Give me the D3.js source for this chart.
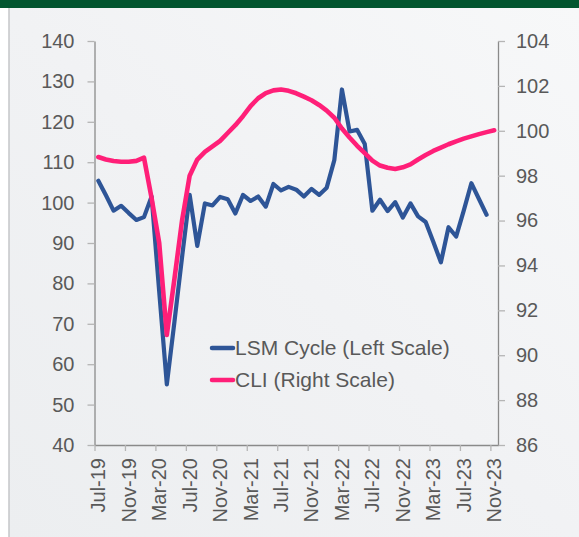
<!DOCTYPE html>
<html><head><meta charset="utf-8">
<script src="https://cdn.jsdelivr.net/npm/d3@7"></script>
<style>
html,body{margin:0;padding:0;background:#fff;}
svg{display:block;font-family:"Liberation Sans",Arial,sans-serif;}
</style></head>
<body>
<svg id="chart" width="579" height="537"></svg>
<script>
const months = ["Jul-19","Aug-19","Sep-19","Oct-19","Nov-19","Dec-19","Jan-20","Feb-20","Mar-20","Apr-20","May-20","Jun-20",
"Jul-20","Aug-20","Sep-20","Oct-20","Nov-20","Dec-20","Jan-21","Feb-21","Mar-21","Apr-21","May-21","Jun-21",
"Jul-21","Aug-21","Sep-21","Oct-21","Nov-21","Dec-21","Jan-22","Feb-22","Mar-22","Apr-22","May-22","Jun-22",
"Jul-22","Aug-22","Sep-22","Oct-22","Nov-22","Dec-22","Jan-23","Feb-23","Mar-23","Apr-23","May-23","Jun-23",
"Jul-23","Aug-23","Sep-23","Oct-23","Nov-23"];
const lsmCycle = [105.4,101.8,98.0,99.2,97.4,95.7,96.4,101.5,78,55,70.5,86.5,
101.9,89.3,99.8,99.3,101.4,100.8,97.3,101.9,100.4,101.5,99.0,104.6,
103.0,103.9,103.2,101.5,103.4,101.9,103.7,110.5,128.0,117.6,118.0,114.5,
98.0,100.7,97.9,100.1,96.3,99.8,96.6,95.2,90.3,85.2,93.9,91.6,
98.0,104.8,100.9,97.0,null];
const cli = [98.83,98.72,98.65,98.62,98.62,98.66,98.8,97.0,95.0,90.9,93.4,96.0,
98.0,98.72,99.06,99.3,99.55,99.9,100.25,100.65,101.1,101.45,101.68,101.8,
101.84,101.78,101.67,101.52,101.36,101.15,100.9,100.58,100.1,99.7,99.33,99.0,
98.67,98.45,98.35,98.3,98.37,98.5,98.72,98.92,99.1,99.25,99.4,99.53,
99.65,99.75,99.85,99.94,100.02];
const leftTicks = [40,50,60,70,80,90,100,110,120,130,140];
const rightTicks = [86,88,90,92,94,96,98,100,102,104];
const xTickIdx = [0,4,8,12,16,20,24,28,32,36,40,44,48,52];
const seriesNames = ["LSM Cycle (Left Scale)","CLI (Right Scale)"];
const colors = ["#2E5597","#FF1F78"];

const svg = d3.select("#chart");
const defs = svg.append("defs");
const g1 = defs.append("linearGradient").attr("id","bg").attr("x1","0").attr("y1","1").attr("x2","1").attr("y2","0");
g1.append("stop").attr("offset","0").attr("stop-color","#eceef0");
g1.append("stop").attr("offset","0.5").attr("stop-color","#f1f2f4");
g1.append("stop").attr("offset","1").attr("stop-color","#f7f8f9");

svg.append("rect").attr("x",0).attr("y",0).attr("width",579).attr("height",537).attr("fill","#ffffff");
svg.append("rect").attr("x",9).attr("y",8).attr("width",570).attr("height",529).attr("fill","url(#bg)");
svg.append("line").attr("x1",9).attr("x2",9).attr("y1",8).attr("y2",537).attr("stroke","#c4c6c8").attr("stroke-width",1.5);
svg.append("rect").attr("x",0).attr("y",0).attr("width",579).attr("height",8).attr("fill","#02552F");

const L = 94.5, R = 498, T = 41, B = 445;
const x = d3.scaleLinear().domain([0, months.length]).range([L, R]);
const yL = d3.scaleLinear().domain([40,140]).range([B, T]);
const yR = d3.scaleLinear().domain([86,104]).range([B, T]);

const textCol = "#595959";

// left axis
const ax = svg.append("g").attr("transform",`translate(${L},0)`)
  .call(d3.axisLeft(yL).tickValues(leftTicks).tickSize(7).tickPadding(13).tickSizeOuter(0));
ax.select(".domain").attr("stroke","#8a8a8a").attr("stroke-width",1.3);
ax.selectAll(".tick line").attr("stroke","#b5b5b5").attr("stroke-width",1.3);
ax.selectAll(".tick text").attr("fill",textCol).attr("font-size",20).attr("font-family","Liberation Sans, Arial, sans-serif");

// right axis
const ar = svg.append("g").attr("transform",`translate(${R},0)`)
  .call(d3.axisRight(yR).tickValues(rightTicks).tickSize(7).tickPadding(11).tickSizeOuter(0));
ar.select(".domain").attr("stroke","#8a8a8a").attr("stroke-width",1.3);
ar.selectAll(".tick line").attr("stroke","#b5b5b5").attr("stroke-width",1.3);
ar.selectAll(".tick text").attr("fill",textCol).attr("font-size",20).attr("font-family","Liberation Sans, Arial, sans-serif");

// bottom axis
const ab = svg.append("g").attr("transform",`translate(0,${B})`)
  .call(d3.axisBottom(x).tickValues(xTickIdx).tickSize(6).tickSizeOuter(0).tickFormat(""));
ab.select(".domain").attr("stroke","#8a8a8a").attr("stroke-width",1.3);
ab.selectAll(".tick line").attr("stroke","#b5b5b5").attr("stroke-width",1.3);

svg.append("g").selectAll("text").data(xTickIdx).join("text")
  .attr("transform", d => `translate(${x(d+0.5)},${B+13}) rotate(-90)`)
  .attr("text-anchor","end").attr("dy","0.35em")
  .attr("fill",textCol).attr("font-size",20)
  .text(d => months[d]);

const lineL = d3.line().defined(d => d != null).x((d,i) => x(i+0.5)).y(d => yL(d));
const lineR = d3.line().defined(d => d != null).x((d,i) => x(i+0.5)).y(d => yR(d));

svg.append("path").datum(lsmCycle).attr("d",lineL).attr("fill","none")
  .attr("stroke",colors[0]).attr("stroke-width",4.2).attr("stroke-linejoin","round").attr("stroke-linecap","round");
svg.append("path").datum(cli).attr("d",lineR).attr("fill","none")
  .attr("stroke",colors[1]).attr("stroke-width",4.6).attr("stroke-linejoin","round").attr("stroke-linecap","round");

// legend
const leg = svg.append("g");
seriesNames.forEach((name,i) => {
  const yy = 348 + i*32;
  leg.append("line").attr("x1",212).attr("x2",233).attr("y1",yy).attr("y2",yy)
    .attr("stroke",colors[i]).attr("stroke-width",4.5).attr("stroke-linecap","round");
  leg.append("text").attr("x",235).attr("y",yy).attr("dy","0.35em")
    .attr("fill",textCol).attr("font-size",21).text(name);
});
</script>
</body></html>
